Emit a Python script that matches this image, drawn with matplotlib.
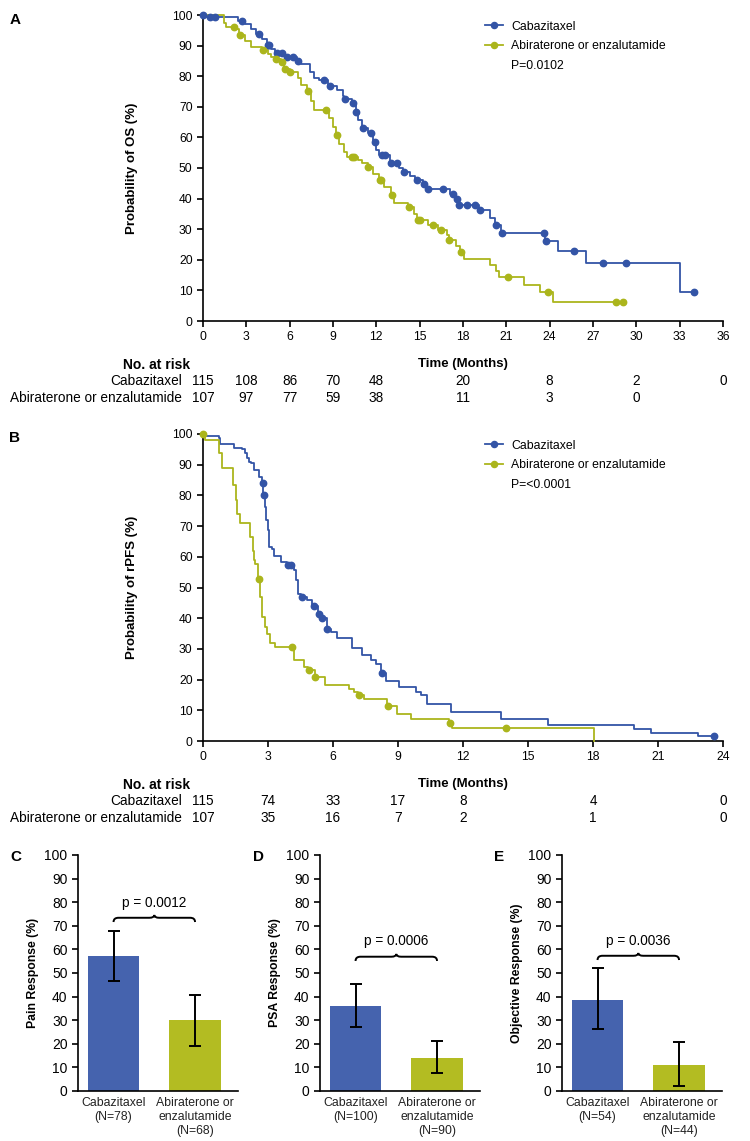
import numpy as np
import matplotlib
matplotlib.use("Agg")
import matplotlib.pyplot as plt
import matplotlib.transforms as mtrans
from matplotlib.path import Path
from matplotlib.patches import PathPatch
from matplotlib.lines import Line2D

plt.rcParams['font.family'] = ['Liberation Sans', 'DejaVu Sans']

W, H = 750, 1141
BLUE = '#3354A6'
GREEN = '#ABB51C'
BAR_BLUE = '#4563AE'
BAR_GREEN = '#B3BC22'

### Kaplan-Meier OS (panel A): step times (months) and survival (%) after each step
os_cab_t = [0, 0.2, 2.4, 2.9, 3.3, 3.7, 4.1, 4.4, 4.7, 5.0, 5.7, 6.5, 6.8, 7.4, 7.7, 8.0, 8.65,
            9.3, 9.7, 9.75, 10.3, 10.6, 10.7, 11.0, 11.4, 11.8, 12.0, 12.2, 12.95, 13.6, 13.85,
            14.3, 14.7, 15.2, 15.5, 17.1, 17.5, 17.7, 19.1, 19.9, 20.2, 20.6, 23.65, 24.6, 26.5, 33.0]
os_cab_s = [100, 99.2, 98.1, 97.0, 95.5, 93.7, 92.0, 90.2, 89.0, 87.5, 86.4, 85.0, 84.0, 81.5, 79.3,
            78.7, 76.8, 75.5, 73.5, 72.5, 71.1, 68.4, 65.6, 63.2, 61.3, 58.6, 56.0, 54.2, 51.5, 50.0,
            48.7, 47.4, 46.0, 44.9, 43.3, 41.6, 40.0, 37.8, 36.2, 33.5, 31.3, 28.9, 26.0, 22.9, 19.0, 9.5]
os_cab_cens = [0, 0.46, 0.85, 2.7, 3.9, 4.5, 4.6, 5.1, 5.5, 5.8, 6.2, 6.6, 8.4, 8.8, 9.8, 10.4,
               10.62, 11.1, 11.6, 11.9, 12.4, 12.6, 13.0, 13.4, 13.9, 14.8, 15.3, 15.6, 16.6, 17.3,
               17.55, 17.75, 18.3, 18.85, 19.2, 20.3, 20.7, 23.6, 23.75, 25.7, 27.7, 29.3, 34.0]
os_cab_end = 34.0

os_abi_t = [0, 1.45, 1.6, 2.2, 2.5, 2.9, 3.3, 4.1, 4.5, 4.7, 5.0, 5.4, 5.6, 6.0, 6.6, 6.75, 7.2,
            7.5, 7.7, 8.7, 9.0, 9.2, 9.4, 9.75, 10.0, 10.7, 11.0, 11.4, 11.8, 12.2, 12.5, 13.0,
            13.2, 14.2, 14.6, 14.8, 15.6, 16.3, 16.9, 17.0, 17.5, 17.8, 18.06, 19.9, 20.3, 20.5,
            22.2, 23.3, 24.25]
os_abi_s = [100, 97.5, 96.2, 95.3, 93.5, 91.5, 89.6, 88.5, 87.3, 86.4, 85.6, 84.5, 82.5, 81.5,
            79.5, 77.1, 75.2, 72.0, 68.9, 66.2, 63.5, 60.7, 58.0, 55.3, 53.7, 52.5, 51.5, 50.2,
            48.0, 46.0, 43.8, 41.3, 38.6, 37.1, 35.0, 32.9, 31.3, 29.7, 28.0, 26.4, 24.5, 22.6,
            20.4, 18.2, 16.3, 14.4, 11.9, 9.5, 6.2]
os_abi_cens = [2.15, 2.55, 4.15, 5.05, 5.5, 5.65, 6.05, 7.25, 8.5, 9.25, 10.3, 10.45, 11.45, 12.25,
               12.35, 13.1, 14.25, 14.85, 15.0, 15.9, 16.5, 17.05, 17.85, 21.1, 23.9, 28.6, 29.1]
os_abi_end = 29.1

### Kaplan-Meier rPFS (panel B)
pfs_cab_t = [0, 0.1, 0.72, 0.8, 1.42, 1.8, 1.96, 2.05, 2.11, 2.2, 2.34, 2.6, 2.72, 2.78, 2.85,
             2.93, 2.99, 3.04, 3.19, 3.27, 3.6, 3.88, 4.2, 4.3, 4.4, 4.52, 4.8, 5.05, 5.3, 5.45,
             5.7, 5.9, 6.19, 6.89, 7.35, 7.74, 7.97, 8.2, 8.43, 9.04, 9.81, 10.04, 10.36, 11.43,
             13.74, 15.9, 19.9, 20.68, 22.84]
pfs_cab_s = [100, 99.5, 98.6, 96.6, 95.5, 95.0, 93.7, 92.3, 91.0, 90.4, 88.3, 86.1, 83.9, 80.1,
             76.3, 72.0, 68.7, 63.3, 62.7, 60.2, 58.4, 57.3, 55.7, 52.4, 48.0, 47.0, 45.9, 44.0,
             41.5, 40.1, 36.6, 35.5, 33.7, 30.4, 27.9, 26.5, 25.2, 22.0, 19.6, 17.6, 16.0, 14.9,
             12.0, 9.5, 7.3, 5.1, 4.0, 2.7, 1.6]
pfs_cab_cens = [2.76, 2.8, 3.93, 4.04, 4.56, 5.1, 5.35, 5.47, 5.73, 8.27, 23.6]
pfs_cab_end = 23.6

pfs_abi_t = [0, 0.1, 0.72, 0.88, 1.39, 1.5, 1.57, 1.73, 2.19, 2.3, 2.34, 2.42, 2.55, 2.65, 2.73,
             2.85, 2.96, 3.1, 3.34, 4.2, 4.65, 4.85, 5.15, 5.65, 6.73, 6.96, 7.15, 7.42, 8.5,
             8.97, 9.58, 11.35, 11.51, 18.06]
pfs_abi_s = [100, 98.0, 93.7, 88.8, 83.4, 78.5, 74.1, 70.9, 66.5, 62.0, 58.9, 57.8, 52.9, 47.0,
             40.4, 37.0, 35.0, 32.0, 30.7, 26.3, 24.1, 23.0, 20.7, 18.2, 17.1, 15.9, 14.9, 13.8,
             11.3, 8.7, 7.3, 5.9, 4.2, 0]
pfs_abi_cens = [0, 2.57, 4.11, 4.88, 5.19, 7.19, 8.55, 11.4, 14.0]
pfs_abi_end = 18.06

### Numbers at risk
os_risk_t_cab = [0, 3, 6, 9, 12, 18, 24, 30, 36]
os_risk_cab = [115, 108, 86, 70, 48, 20, 8, 2, 0]
os_risk_t_abi = [0, 3, 6, 9, 12, 18, 24, 30]
os_risk_abi = [107, 97, 77, 59, 38, 11, 3, 0]
pfs_risk_t = [0, 3, 6, 9, 12, 18, 24]
pfs_risk_cab = [115, 74, 33, 17, 8, 4, 0]
pfs_risk_abi = [107, 35, 16, 7, 2, 1, 0]

arm_names = ['Cabazitaxel', 'Abiraterone or enzalutamide']

### Response bars (C, D, E): value, lower CI, upper CI
pain_val = [57, 30]
pain_lo = [46.5, 19]
pain_hi = [68, 40.7]
pain_n = [78, 68]
psa_val = [36.1, 14.1]
psa_lo = [27.3, 7.8]
psa_hi = [45.3, 21.1]
psa_n = [100, 90]
obj_val = [38.7, 11.2]
obj_lo = [26.3, 2.0]
obj_hi = [52.1, 20.7]
obj_n = [54, 44]


def add_axes_px(fig, left, top, right, bottom):
    return fig.add_axes([left / W, 1 - bottom / H, (right - left) / W, (bottom - top) / H])


def style_axes(ax):
    for side in ['top', 'right']:
        ax.spines[side].set_visible(False)
    for side in ['left', 'bottom']:
        ax.spines[side].set_linewidth(1.2)
    ax.tick_params(width=1.2, length=4, labelsize=8.7, color='black')


def km_curve(ax, t, s, cens, end, color):
    t = np.asarray(t, float)
    s = np.asarray(s, float)
    ax.step(np.append(t, end), np.append(s, s[-1]), where='post', color=color, lw=1.3,
            clip_on=False, zorder=3)
    idx = np.searchsorted(t, cens, side='right') - 1
    ax.plot(cens, s[idx], 'o', color=color, ms=4.6, ls='none', clip_on=False, zorder=4)


def km_panel(fig, top, bottom, xmax, curves, pval, ylabel, risk):
    ax = add_axes_px(fig, 203, top, 723, bottom)
    style_axes(ax)
    for c in curves:
        km_curve(ax, *c)
    ax.set_xlim(0, xmax)
    ax.set_ylim(0, 100)
    ax.set_xticks(np.arange(0, xmax + 1, 3))
    ax.set_yticks(np.arange(0, 101, 10))
    ax.set_ylabel(ylabel, fontsize=9.5, fontweight='bold')
    ax.yaxis.set_label_coords(-0.125, 0.5)
    ax.set_xlabel('Time (Months)', fontsize=9.5, fontweight='bold')
    ax.xaxis.set_label_coords(0.5, -0.122)

    handles = [Line2D([], [], color=BLUE, marker='o', ms=4.4, lw=1.3),
               Line2D([], [], color=GREEN, marker='o', ms=4.4, lw=1.3),
               Line2D([], [], color='none')]
    ax.legend(handles, arm_names + [pval], loc='upper left', bbox_to_anchor=(0.533, 0.998),
              frameon=False, fontsize=8.8, handlelength=1.45, handletextpad=0.7,
              labelspacing=0.65, borderaxespad=0)

    tr = mtrans.blended_transform_factory(ax.transData, fig.transFigure)
    fig.text(190 / W, 1 - (bottom + 44) / H, 'No. at risk', ha='right', va='center',
             fontsize=10, fontweight='bold')
    for k, (rt, rv) in enumerate(risk):
        y = 1 - (bottom + 60 + 17 * k) / H
        fig.text(182 / W, y, arm_names[k], ha='right', va='center', fontsize=9.8)
        for tt, v in zip(rt, rv):
            ax.text(tt, y, str(v), transform=tr, ha='center', va='center', fontsize=9.8)
    return ax


def brace(ax, x0, x1, y):
    xm = (x0 + x1) / 2
    dx = 0.06
    verts = [(x0, y - 1.8), (x0, y), (x0 + dx, y), (xm - dx, y), (xm, y), (xm, y + 1.2),
             (xm, y), (xm + dx, y), (x1 - dx, y), (x1, y), (x1, y - 1.8)]
    codes = [Path.MOVETO, Path.CURVE3, Path.CURVE3, Path.LINETO, Path.CURVE3, Path.CURVE3,
             Path.CURVE3, Path.CURVE3, Path.LINETO, Path.CURVE3, Path.CURVE3]
    ax.add_patch(PathPatch(Path(verts, codes), fill=False, lw=1.4, color='black'))


def bar_panel(fig, left, vals, lo, hi, ns, ylabel, ptext, by):
    ax = add_axes_px(fig, left, 855, left + 160, 1091)
    style_axes(ax)
    x = np.arange(2)
    vals = np.asarray(vals)
    ax.bar(x, vals, width=0.63, color=[BAR_BLUE, BAR_GREEN])
    ax.errorbar(x, vals, yerr=[vals - np.asarray(lo), np.asarray(hi) - vals], fmt='none',
                ecolor='black', elinewidth=1.4, capsize=4, capthick=1.4)
    ax.set_xlim(-0.436, 1.527)
    ax.set_ylim(0, 100)
    ax.set_yticks(np.arange(0, 101, 10))
    ax.set_xticks(x)
    ax.set_xticklabels(['Cabazitaxel\n(N=%d)' % ns[0],
                        'Abiraterone or\nenzalutamide\n(N=%d)' % ns[1]],
                       fontsize=8.8, color='#222222', linespacing=1.25)
    ax.tick_params(axis='x', length=0, pad=4)
    ax.tick_params(axis='y', labelsize=10)
    ax.set_ylabel(ylabel, fontsize=8.8, fontweight='bold')
    brace(ax, 0, 1, by)
    ax.text(0.5, by + 3.5, ptext, ha='center', va='bottom', fontsize=9.8)
    return ax


fig = plt.figure(figsize=(W / 100, H / 100), dpi=100)

km_panel(fig, 15, 321, 36,
         [(os_cab_t, os_cab_s, os_cab_cens, os_cab_end, BLUE),
          (os_abi_t, os_abi_s, os_abi_cens, os_abi_end, GREEN)],
         'P=0.0102', 'Probability of OS (%)',
         [(os_risk_t_cab, os_risk_cab), (os_risk_t_abi, os_risk_abi)])

km_panel(fig, 434, 741, 24,
         [(pfs_cab_t, pfs_cab_s, pfs_cab_cens, pfs_cab_end, BLUE),
          (pfs_abi_t, pfs_abi_s, pfs_abi_cens, pfs_abi_end, GREEN)],
         'P=<0.0001', 'Probability of rPFS (%)',
         [(pfs_risk_t, pfs_risk_cab), (pfs_risk_t, pfs_risk_abi)])

bar_panel(fig, 78, pain_val, pain_lo, pain_hi, pain_n, 'Pain Response (%)', 'p = 0.0012', 73.4)
bar_panel(fig, 320, psa_val, psa_lo, psa_hi, psa_n, 'PSA Response (%)', 'p = 0.0006', 56.9)
bar_panel(fig, 562, obj_val, obj_lo, obj_hi, obj_n, 'Objective Response (%)', 'p = 0.0036', 57.3)

for letter, xp, yp in [('A', 15, 20), ('B', 15, 438), ('C', 16, 857), ('D', 258, 857),
                       ('E', 499, 857)]:
    fig.text(xp / W, 1 - yp / H, letter, fontsize=11, fontweight='bold', ha='center',
             va='center')

fig.savefig('out.png', dpi=100)
